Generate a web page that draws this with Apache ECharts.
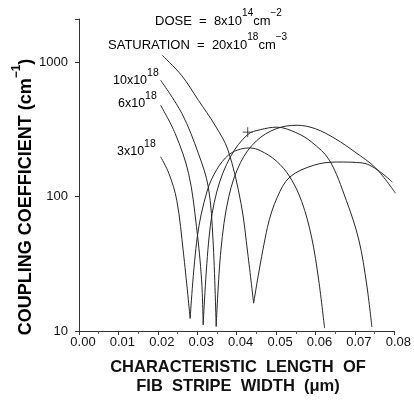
<!DOCTYPE html>
<html>
<head>
<meta charset="utf-8">
<script src="https://cdn.jsdelivr.net/npm/echarts@6/dist/echarts.min.js"></script>
<style>
  html, body { margin: 0; padding: 0; background: #fff; }
  #chart { width: 414px; height: 401px; }
</style>
</head>
<body>
<div id="chart"></div>
<script>
// Coupling coefficient (cm^-1) vs. characteristic FIB stripe width (um)
// for a dose of 8x10^14 cm^-2 and several saturation concentrations.
// Each curve falls to a null (sign change of the coupling), then rises
// to a second lobe; the null is drawn as a sharp corner.

const xTicks = [0.00, 0.01, 0.02, 0.03, 0.04, 0.05, 0.06, 0.07, 0.08];
const yTicks = [10, 100, 1000];

// 3x10^18 : falling branch, then second lobe
const width3a = [0.0207, 0.0228, 0.0248, 0.0265, 0.0282];
const kappa3a = [198, 149, 94, 38, 12.4];
const width3b = [0.0282, 0.0300, 0.0325, 0.0350, 0.0380, 0.0410, 0.0435, 0.0460, 0.0500, 0.0535, 0.0565, 0.0590, 0.0608, 0.0623];
const kappa3b = [12.4, 50, 110, 160, 205, 226, 230, 220, 185, 140, 92, 50, 24, 10.5];

// 6x10^18
const width6a = [0.0207, 0.0244, 0.0278, 0.0298, 0.0311, 0.0315];
const kappa6a = [479, 295, 149, 60, 24, 11.1];
const width6b = [0.0315, 0.0330, 0.0350, 0.0385, 0.0428, 0.0460, 0.0502, 0.0550, 0.0590, 0.0635, 0.0678, 0.0710, 0.0730, 0.0743];
const kappa6b = [11.1, 50, 110, 200, 290, 315, 329, 300, 255, 187, 94, 47.5, 22, 10.7];

// 10x10^18
const width10a = [0.0207, 0.0261, 0.0303, 0.0328, 0.0340, 0.0348];
const kappa10a = [735, 416, 209, 118, 47.5, 10.8];
const width10b = [0.0348, 0.0360, 0.0380, 0.0410, 0.0450, 0.0500, 0.0553, 0.0600, 0.0650, 0.0700, 0.0753, 0.0803];
const kappa10b = [10.8, 40, 100, 180, 260, 320, 340, 320, 270, 215, 163, 106];

// 20x10^18 (saturation)
const width20a = [0.0211, 0.0260, 0.0303, 0.0345, 0.0378, 0.0411, 0.0428, 0.0443];
const kappa20a = [1127, 800, 521, 340, 222, 89, 38, 16.1];
const width20b = [0.0443, 0.0478, 0.0503, 0.0535, 0.0595, 0.0653, 0.0720, 0.0795];
const kappa20b = [16.1, 59, 99, 140, 171, 181, 178, 128];

// crossing marker
const markX = [0.0428];
const markY = [302];

const pairs = (xs, ys) => xs.map((x, i) => [x, ys[i]]);

const lineColor = '#262626';
const font = '"Liberation Sans", Arial, Helvetica, sans-serif';

function branch(name, xs, ys) {
  return {
    name, type: 'line', data: pairs(xs, ys),
    symbol: 'none', smooth: 0.35,
    lineStyle: { color: lineColor, width: 1 },
    silent: true
  };
}

const chart = echarts.init(document.getElementById('chart'), null, { renderer: 'canvas' });

// text with a raised exponent: base tokens sit at the bottom of a tall line
const base = { fontSize: 13, fontFamily: font, color: '#111', lineHeight: 20, verticalAlign: 'bottom' };
const sup = { fontSize: 10, fontFamily: font, color: '#111', lineHeight: 11, verticalAlign: 'top' };
const lbl = { fontSize: 12.5, fontFamily: font, color: '#111', lineHeight: 19, verticalAlign: 'bottom' };
const lsup = { fontSize: 10.5, fontFamily: font, color: '#111', lineHeight: 11, verticalAlign: 'top' };

chart.setOption({
  animation: false,
  backgroundColor: '#fff',
  grid: { left: 79, right: 15, top: 19, bottom: 70 },
  xAxis: {
    type: 'value', min: 0, max: 0.08, interval: 0.01,
    axisLine: { show: true, lineStyle: { color: '#333', width: 1 } },
    axisTick: { show: true, length: 4, lineStyle: { color: '#333' } },
    minorTick: { show: true, splitNumber: 2, length: 3, lineStyle: { color: '#555' } },
    splitLine: { show: false },
    axisLabel: {
      color: '#111', fontSize: 13, fontFamily: font, margin: 5,
      padding: [0, 0, 0, 8],
      formatter: v => v.toFixed(2)
    }
  },
  yAxis: {
    type: 'log', logBase: 10, min: 10, max: 2100,
    axisLine: { show: true, lineStyle: { color: '#333', width: 1 } },
    axisTick: { show: true, length: 4, lineStyle: { color: '#333' } },
    splitLine: { show: false },
    axisLabel: {
      color: '#111', fontSize: 13, fontFamily: font, margin: 11,
      formatter: v => (yTicks.indexOf(Math.round(v)) >= 0 ? String(Math.round(v)) : '')
    }
  },
  series: [
    branch('3x10^18', width3a, kappa3a),
    branch('3x10^18', width3b, kappa3b),
    branch('6x10^18', width6a, kappa6a),
    branch('6x10^18', width6b, kappa6b),
    branch('10x10^18', width10a, kappa10a),
    branch('10x10^18', width10b, kappa10b),
    branch('20x10^18', width20a, kappa20a),
    branch('20x10^18', width20b, kappa20b),
    {
      type: 'scatter', data: pairs(markX, markY),
      symbol: 'path://M5,0L5,10M0,5L10,5', symbolSize: 10,
      itemStyle: { color: 'none', borderColor: lineColor, borderWidth: 1 },
      silent: true
    }
  ],
  graphic: [
    {
      type: 'text', x: 155, y: 8,
      style: {
        text: '{b|DOSE  =  8x10}{s|14}{b|cm}{s|−2}',
        rich: { b: base, s: sup }
      }
    },
    {
      type: 'text', x: 108, y: 32,
      style: {
        text: '{b|SATURATION  =  20x10}{s|18}{b|cm}{s|−3}',
        rich: { b: base, s: sup }
      }
    },
    {
      type: 'text', x: 113, y: 68,
      style: { text: '{b|10x10}{s|18}', rich: { b: lbl, s: lsup } }
    },
    {
      type: 'text', x: 118, y: 91,
      style: { text: '{b|6x10}{s|18}', rich: { b: lbl, s: lsup } }
    },
    {
      type: 'text', x: 117, y: 139,
      style: { text: '{b|3x10}{s|18}', rich: { b: lbl, s: lsup } }
    },
    {
      type: 'text', x: 238, y: 377,
      style: {
        text: 'CHARACTERISTIC  LENGTH  OF\nFIB  STRIPE  WIDTH  (μm)',
        fontSize: 16.5, fontWeight: 'bold', fontFamily: font, fill: '#111',
        align: 'center', verticalAlign: 'middle', lineHeight: 19
      }
    },
    {
      type: 'text', x: 23, y: 197, rotation: Math.PI / 2,
      style: {
        text: '{t|COUPLING COEFFICIENT (cm}{u|−1}{t|)}',
        align: 'center', verticalAlign: 'middle',
        rich: {
          t: { fontSize: 18, fontWeight: 'bold', fontFamily: font, color: '#111', lineHeight: 24, verticalAlign: 'bottom' },
          u: { fontSize: 12, fontWeight: 'bold', fontFamily: font, color: '#111', lineHeight: 12, verticalAlign: 'top' }
        }
      }
    }
  ]
});
</script>
</body>
</html>
